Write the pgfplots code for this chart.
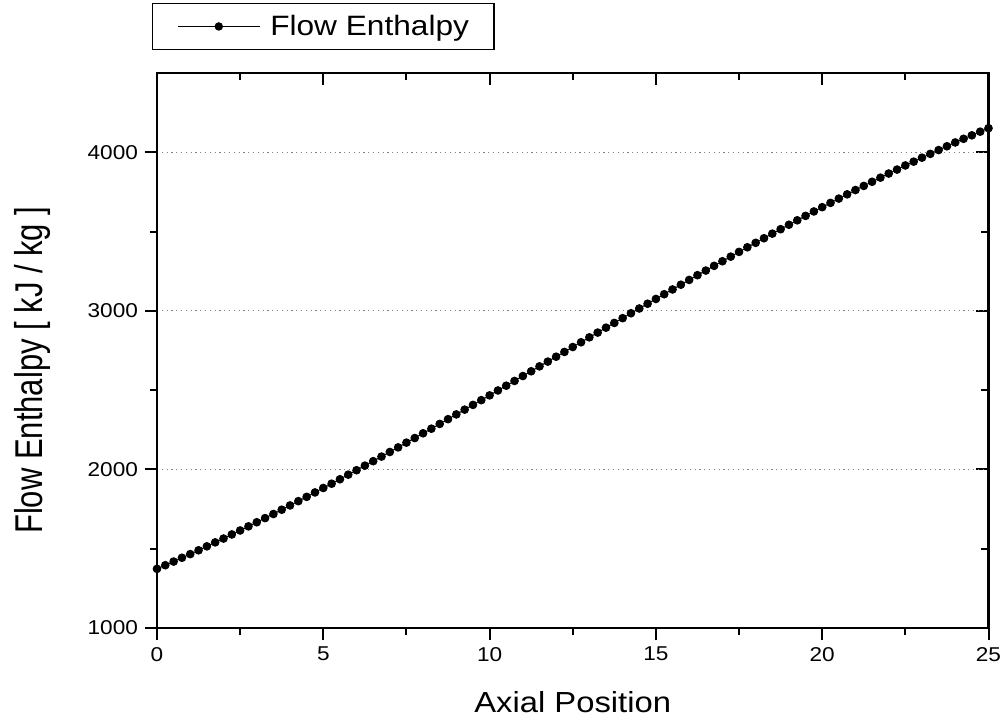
\documentclass[border=0pt]{standalone}
\usepackage{fontspec}
\setmainfont{Liberation Sans}[FakeStretch=1.13]
\newfontfamily\labelfont{Liberation Sans}
\usepackage{graphicx}
\usepackage{pgfplots}
\pgfplotsset{compat=1.18}

% Flow enthalpy along the channel, one value every 0.25 of axial position
\pgfplotstableread{
x      h
0      1373
0.25   1396
0.5    1419
0.75   1443
1      1466
1.25   1490
1.5    1515
1.75   1540
2      1564
2.25   1590
2.5    1615
2.75   1641
3      1667
3.25   1693
3.5    1719
3.75   1746
4      1773
4.25   1800
4.5    1827
4.75   1855
5      1883
5.25   1910
5.5    1938
5.75   1967
6      1995
6.25   2024
6.5    2052
6.75   2081
7      2110
7.25   2139
7.5    2169
7.75   2198
8      2228
8.25   2257
8.5    2287
8.75   2317
9      2347
9.25   2377
9.5    2407
9.75   2437
10     2467
10.25  2498
10.5   2528
10.75  2558
11     2589
11.25  2619
11.5   2650
11.75  2680
12     2711
12.25  2741
12.5   2772
12.75  2802
13     2833
13.25  2863
13.5   2894
13.75  2924
14     2954
14.25  2985
14.5   3015
14.75  3045
15     3075
15.25  3105
15.5   3135
15.75  3165
16     3195
16.25  3225
16.5   3254
16.75  3284
17     3313
17.25  3342
17.5   3372
17.75  3401
18     3429
18.25  3458
18.5   3487
18.75  3515
19     3543
19.25  3571
19.5   3599
19.75  3627
20     3654
20.25  3681
20.5   3708
20.75  3735
21     3762
21.25  3788
21.5   3814
21.75  3840
22     3866
22.25  3891
22.5   3917
22.75  3941
23     3966
23.25  3990
23.5   4014
23.75  4038
24     4062
24.25  4085
24.5   4107
24.75  4130
25     4152
}\enthalpy

\pgfplotsset{
  frame/.style={
    scale only axis,
    width=415.75pt, height=277.5pt,
    xmin=0, xmax=25, ymin=1000, ymax=4500,
    xtick={0,5,...,25}, ytick={1000,2000,3000,4000},
    minor x tick num=1, minor y tick num=1,
    major tick length=6pt, minor tick length=3.5pt,
    every tick/.append style={black, line width=1pt},
    axis line style={black, line width=1.35pt},
  }
}

\begin{document}
\begin{tikzpicture}
\path[use as bounding box] (-78.5pt,-48.5pt) rectangle (425.5pt,314pt);

% inward ticks on the top and right edges
\begin{axis}[
  frame,
  tick align=inside,
  xtick pos=right, ytick pos=right,
  xticklabels={}, yticklabels={},
]
\end{axis}

\begin{axis}[
  frame,
  tick align=outside,
  xtick pos=left, ytick pos=left,
  clip=false,
  tick label style={font=\fontsize{10}{12}\selectfont},
  /pgf/number format/assume math mode=true,
  /pgf/number format/set thousands separator={},
  ymajorgrids,
  major grid style={gray, line width=0.6pt, dash pattern=on 0.6pt off 1.8pt},
  xlabel={Axial Position},
  xlabel style={at={(axis description cs:0.5,-0.133)}, anchor=center,
                font=\fontsize{14.5}{17}\selectfont},
  ylabel={\labelfont\scalebox{1}[1.25]{Flow Enthalpy [ kJ / kg ]}},
  ylabel style={at={(axis description cs:-0.150,0.4645)}, anchor=center,
                font=\fontsize{15.5}{18}\selectfont},
  legend style={at={(axis description cs:0,1)}, anchor=south west,
                xshift=-2.65pt, yshift=11.65pt,
                draw=black, line width=0.6pt,
                inner xsep=12.5pt, inner ysep=5.5pt,
                column sep=5pt, nodes={inner sep=0pt},
                font=\fontsize{14}{17}\selectfont},
  legend cell align=left,
  legend image code/.code={
    \draw[black, line width=0.5pt] (0pt,0pt) -- (41pt,0pt);
    \fill[black] (20.5pt,0pt) circle (1.85pt);
  },
]
\addplot[black, line width=0.5pt, mark=*, mark size=1.9pt,
         mark options={solid, fill=black, draw=black}]
  table[x=x, y=h] {\enthalpy};
\addlegendentry{Flow Enthalpy}
\end{axis}
\end{tikzpicture}
\end{document}
